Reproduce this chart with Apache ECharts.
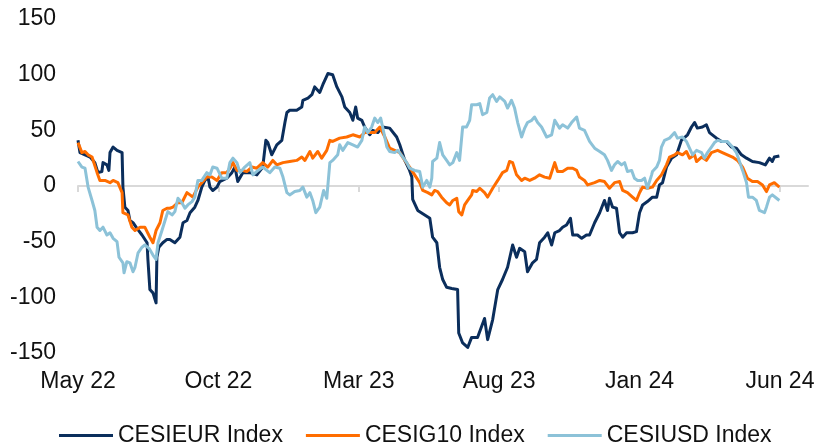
<!DOCTYPE html>
<html>
<head>
<meta charset="utf-8">
<script src="https://cdn.jsdelivr.net/npm/echarts@6/dist/echarts.min.js"></script>
<style>
  html, body { margin: 0; padding: 0; background: #fff; }
  #chart { width: 817px; height: 442px; }
</style>
</head>
<body>
<div id="chart"></div>
<script>
// x = months since May 2022, y = index value
var tickMonths = [0, 5, 10, 15, 20, 25];
var tickLabels = ['May 22', 'Oct 22', 'Mar 23', 'Aug 23', 'Jan 24', 'Jun 24'];
var seriesNames = ['CESIEUR Index', 'CESIG10 Index', 'CESIUSD Index'];
var seriesColors = ['#0b2e5c', '#ff6d00', '#8cc2d8'];

var cesiEur = [
    [0, 41], [0.07, 30], [0.25, 28], [0.43, 26], [0.60, 21], [0.71, 12], [0.85, 13], [0.89, 21],
    [1.03, 19], [1.10, 14], [1.14, 30], [1.25, 35], [1.39, 32], [1.57, 30], [1.60, -1], [1.67, -19],
    [1.78, -22], [1.85, -31], [1.96, -33], [2.10, -38], [2.28, -44], [2.46, -51], [2.49, -66], [2.56, -93],
    [2.67, -96], [2.78, -105], [2.81, -64], [2.88, -55], [3.02, -51], [3.17, -48], [3.27, -48], [3.45, -51],
    [3.63, -46], [3.74, -33], [3.88, -31], [3.99, -24], [4.16, -19], [4.27, -13], [4.41, -1], [4.52, 5],
    [4.63, 8], [4.70, -1], [4.80, -4], [4.95, -1], [5.05, 4], [5.30, 7], [5.48, 12], [5.59, 17],
    [5.69, 4], [5.87, 12], [6.12, 12], [6.37, 10], [6.58, 17], [6.69, 41], [6.76, 39], [6.90, 28],
    [7.08, 37], [7.26, 41], [7.37, 57], [7.44, 66], [7.54, 68], [7.79, 68], [7.97, 71], [8.01, 77],
    [8.19, 79], [8.33, 82], [8.43, 89], [8.61, 84], [8.72, 91], [8.90, 101], [9.07, 100], [9.22, 89],
    [9.40, 80], [9.50, 71], [9.68, 66], [9.79, 59], [9.89, 71], [9.96, 61], [10.11, 59], [10.21, 53],
    [10.39, 46], [10.50, 50], [10.68, 48], [10.85, 53], [11.10, 52], [11.35, 44], [11.46, 37], [11.64, 23],
    [11.81, 14], [11.89, 8], [11.92, -12], [12.10, -22], [12.35, -26], [12.53, -29], [12.63, -46], [12.78, -51],
    [12.88, -73], [12.99, -84], [13.13, -91], [13.31, -92], [13.52, -93], [13.56, -132], [13.70, -141], [13.88, -145],
    [14.02, -136], [14.23, -136], [14.48, -119], [14.59, -138], [14.77, -120], [14.95, -93], [15.12, -84], [15.30, -73],
    [15.48, -53], [15.62, -64], [15.73, -56], [15.91, -59], [16.01, -77], [16.19, -69], [16.33, -66], [16.44, -51],
    [16.62, -46], [16.73, -42], [16.87, -53], [16.98, -42], [17.15, -40], [17.26, -37], [17.40, -35], [17.54, -29],
    [17.62, -44], [17.79, -44], [17.94, -47], [18.11, -44], [18.22, -44], [18.40, -33], [18.58, -24], [18.75, -13],
    [18.86, -22], [18.93, -11], [19.04, -19], [19.18, -20], [19.29, -42], [19.40, -46], [19.54, -42], [19.75, -42],
    [19.89, -41], [20.00, -24], [20.11, -17], [20.28, -14], [20.46, -10], [20.61, -10], [20.71, 1], [20.82, 3],
    [20.96, 17], [21.14, 25], [21.32, 28], [21.49, 41], [21.71, 46], [21.85, 53], [21.96, 57], [22.06, 52],
    [22.24, 53], [22.38, 55], [22.49, 48], [22.74, 43], [22.92, 40], [23.10, 40], [23.27, 35], [23.45, 34],
    [23.63, 28], [23.81, 25], [24.02, 22], [24.27, 21], [24.48, 19], [24.63, 25], [24.73, 22], [24.80, 26],
    [24.98, 27]
];

var cesiG10 = [
    [0, 39], [0.14, 30], [0.25, 31], [0.36, 28], [0.50, 26], [0.68, 12], [0.78, 5], [0.96, 5],
    [1.14, 3], [1.25, 5], [1.42, 3], [1.57, -6], [1.60, -24], [1.78, -26], [1.92, -37], [2.03, -40],
    [2.21, -37], [2.38, -37], [2.56, -46], [2.67, -51], [2.78, -40], [2.92, -33], [3.02, -22], [3.17, -20],
    [3.27, -20], [3.38, -19], [3.56, -15], [3.70, -15], [3.88, -6], [3.99, -8], [4.09, -10], [4.27, -1],
    [4.45, 4], [4.59, 8], [4.77, 8], [4.95, 5], [5.12, 12], [5.30, 12], [5.41, 16], [5.52, 21],
    [5.66, 14], [5.84, 14], [6.01, 13], [6.19, 17], [6.37, 16], [6.58, 21], [6.76, 17], [6.94, 23],
    [7.08, 19], [7.30, 21], [7.54, 22], [7.79, 23], [7.97, 26], [8.08, 23], [8.26, 31], [8.36, 25],
    [8.54, 31], [8.68, 25], [8.86, 32], [8.97, 41], [9.07, 40], [9.32, 43], [9.57, 44], [9.79, 46],
    [10.04, 44], [10.21, 48], [10.39, 48], [10.57, 48], [10.75, 53], [10.93, 44], [11.10, 34], [11.28, 32],
    [11.46, 30], [11.64, 23], [11.81, 17], [11.99, 10], [12.17, 3], [12.28, -4], [12.46, -6], [12.60, -8],
    [12.70, -4], [12.81, -5], [12.95, -10], [13.13, -15], [13.24, -17], [13.35, -13], [13.49, -11], [13.56, -23],
    [13.67, -26], [13.77, -17], [13.88, -13], [14.02, -8], [14.06, -4], [14.20, -5], [14.31, -2], [14.48, -6],
    [14.59, -10], [14.77, -2], [14.95, 5], [15.12, 12], [15.27, 14], [15.37, 22], [15.48, 21], [15.62, 10],
    [15.80, 5], [15.91, 7], [16.09, 5], [16.26, 7], [16.44, 10], [16.62, 8], [16.80, 7], [16.98, 21],
    [17.08, 13], [17.26, 13], [17.44, 16], [17.62, 16], [17.76, 14], [17.86, 8], [18.04, 5], [18.15, 1],
    [18.40, 3], [18.58, 5], [18.75, 4], [18.93, -2], [19.11, 3], [19.29, 4], [19.40, -4], [19.57, -6],
    [19.75, -10], [19.89, -13], [20.00, -6], [20.11, -1], [20.28, -2], [20.46, -1], [20.61, 5], [20.78, 10],
    [20.96, 19], [21.07, 26], [21.25, 28], [21.35, 30], [21.53, 28], [21.67, 31], [21.78, 25], [21.96, 28],
    [22.03, 22], [22.21, 26], [22.38, 23], [22.56, 30], [22.78, 32], [22.95, 30], [23.13, 28], [23.31, 26],
    [23.49, 23], [23.67, 17], [23.84, 7], [24.02, 4], [24.20, 4], [24.38, 1], [24.52, -5], [24.63, 1],
    [24.80, 3], [24.98, -1]
];

var cesiUsd = [
    [0, 22], [0.14, 17], [0.25, 16], [0.36, -1], [0.50, -13], [0.60, -22], [0.68, -37], [0.78, -40],
    [0.89, -37], [1.03, -44], [1.14, -42], [1.25, -47], [1.39, -50], [1.46, -64], [1.60, -69], [1.64, -78],
    [1.74, -68], [1.85, -69], [1.96, -77], [2.03, -73], [2.14, -60], [2.28, -55], [2.38, -53], [2.53, -56],
    [2.67, -62], [2.78, -66], [2.85, -51], [2.99, -40], [3.10, -31], [3.20, -23], [3.35, -26], [3.45, -23],
    [3.56, -11], [3.70, -15], [3.81, -20], [3.91, -17], [4.06, -14], [4.16, -10], [4.27, 5], [4.41, 5],
    [4.59, 12], [4.70, 10], [4.80, 17], [4.95, 16], [5.12, 7], [5.30, 7], [5.41, 21], [5.52, 25],
    [5.66, 21], [5.77, 12], [5.94, 17], [6.12, 21], [6.23, 10], [6.41, 14], [6.58, 17], [6.83, 12],
    [7.01, 17], [7.19, 16], [7.30, 8], [7.44, -6], [7.54, -8], [7.72, -5], [7.90, -4], [8.01, -1],
    [8.15, -10], [8.26, -6], [8.36, -13], [8.47, -24], [8.61, -19], [8.75, -4], [8.86, -11], [8.97, 21],
    [9.07, 23], [9.25, 28], [9.32, 37], [9.43, 32], [9.61, 39], [9.79, 37], [9.96, 35], [10.11, 41],
    [10.21, 53], [10.32, 48], [10.46, 53], [10.57, 61], [10.68, 57], [10.78, 61], [10.85, 53], [11.00, 35],
    [11.10, 31], [11.28, 30], [11.39, 32], [11.57, 26], [11.71, 21], [11.81, 16], [11.99, 14], [12.17, 13],
    [12.28, -1], [12.42, 5], [12.53, -1], [12.60, 7], [12.63, 22], [12.78, 25], [12.88, 39], [12.99, 28],
    [13.13, 23], [13.24, 19], [13.35, 21], [13.49, 30], [13.59, 23], [13.70, 53], [13.84, 53], [13.95, 59],
    [14.02, 73], [14.20, 73], [14.31, 74], [14.41, 64], [14.56, 66], [14.66, 79], [14.77, 82], [14.91, 76],
    [15.02, 80], [15.20, 76], [15.30, 70], [15.44, 77], [15.55, 70], [15.66, 57], [15.80, 44], [15.91, 52],
    [16.01, 57], [16.16, 59], [16.26, 62], [16.37, 57], [16.51, 53], [16.69, 44], [16.87, 46], [16.98, 59],
    [17.15, 52], [17.26, 55], [17.44, 52], [17.58, 57], [17.76, 62], [17.86, 52], [18.04, 50], [18.22, 40],
    [18.40, 34], [18.58, 31], [18.75, 28], [18.86, 23], [19.00, 14], [19.11, 19], [19.22, 22], [19.36, 19],
    [19.47, 21], [19.57, 13], [19.72, 14], [19.82, 7], [19.93, 5], [20.07, 5], [20.18, 7], [20.28, -2],
    [20.43, 10], [20.46, 13], [20.61, 17], [20.71, 23], [20.78, 35], [20.89, 41], [21.07, 43], [21.25, 48],
    [21.35, 43], [21.53, 44], [21.67, 40], [21.78, 34], [21.89, 28], [22.03, 32], [22.21, 30], [22.31, 25],
    [22.42, 30], [22.56, 35], [22.67, 39], [22.78, 41], [22.95, 40], [23.13, 40], [23.31, 35], [23.45, 30],
    [23.56, 22], [23.67, 14], [23.81, 3], [23.88, -10], [24.02, -10], [24.16, -13], [24.27, -22], [24.45, -24],
    [24.52, -19], [24.63, -10], [24.73, -8], [24.88, -11], [24.98, -13]
];

var seriesData = [cesiEur, cesiG10, cesiUsd];
var textFont = 'Liberation Sans, Arial, sans-serif';

var chart = echarts.init(document.getElementById('chart'), null, { renderer: 'canvas' });

var option = {
    animation: false,
    backgroundColor: '#ffffff',
    grid: { left: 78, right: 9, top: 19, bottom: 89, containLabel: false, outerBoundsMode: 'none' },
    legend: {
        data: seriesNames,
        top: 419,
        left: 54,
        icon: 'rect',
        itemWidth: 54,
        itemHeight: 3,
        itemGap: 23,
        textStyle: { fontSize: 23, color: '#111', fontFamily: textFont }
    },
    xAxis: [
        {
            type: 'value', min: 0, max: 26, interval: 5, position: 'bottom',
            axisLine: { show: false, onZero: false },
            axisTick: { show: false },
            splitLine: { show: false },
            axisLabel: {
                customValues: tickMonths,
                margin: 17,
                fontSize: 23,
                color: '#111',
                fontFamily: textFont,
                formatter: function (v) {
                    var i = tickMonths.indexOf(v);
                    return i >= 0 ? tickLabels[i] : '';
                }
            }
        },
        {
            type: 'value', min: 0, max: 26, interval: 5, position: 'bottom',
            axisLine: { show: true, onZero: true, lineStyle: { color: '#d9d9d9', width: 2 } },
            axisTick: { show: true, customValues: tickMonths, length: 6, lineStyle: { color: '#d9d9d9', width: 2 } },
            axisLabel: { show: false },
            splitLine: { show: false }
        }
    ],
    yAxis: {
        type: 'value', min: -150, max: 150, interval: 50,
        axisLine: { show: false },
        axisTick: { show: false },
        splitLine: { show: false },
        axisLabel: { margin: 22, fontSize: 23, color: '#111', fontFamily: textFont }
    },
    series: seriesNames.map(function (name, i) {
        return {
            name: name,
            type: 'line',
            xAxisIndex: 0,
            data: seriesData[i],
            showSymbol: false,
            symbol: 'none',
            color: seriesColors[i],
            lineStyle: { width: 3, color: seriesColors[i], join: 'round' }
        };
    })
};

chart.setOption(option);
</script>
</body>
</html>
